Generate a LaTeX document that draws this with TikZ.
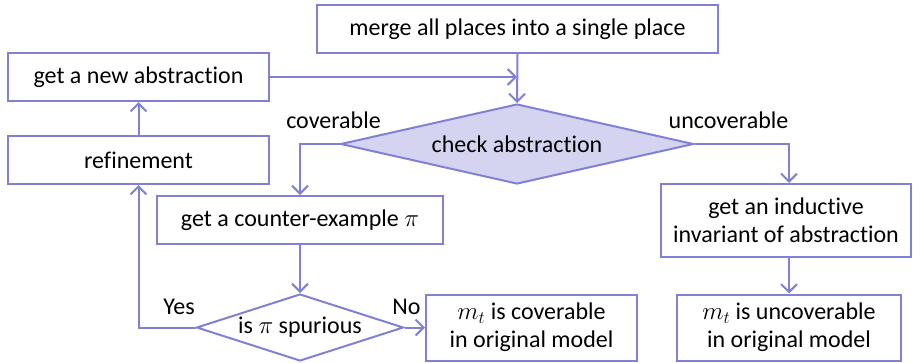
\documentclass[tikz,border=0pt]{standalone}
\usepackage{fontspec}
\setmainfont[Ligatures=NoCommon]{Carlito}
\usetikzlibrary{shapes.geometric,arrows.meta}
\definecolor{flowline}{RGB}{128,128,214}
\definecolor{flowfill}{RGB}{212,212,240}

\begin{document}
\begin{tikzpicture}[x=1pt,y=1pt]
\tikzset{every node/.style={inner sep=0pt,font=\fontsize{24}{28}\selectfont},
  box/.style={draw=flowline,line width=2pt,rectangle,align=center},
  test/.style={draw=flowline,line width=2pt,diamond},
  flow/.style={draw=flowline,line width=2pt,-{Straight Barb[length=8pt,width=16pt]}}}
\useasboundingbox (0,0) rectangle (913,-362);
% boxes
\node [box,minimum width=401,minimum height=48] (merge) at (517.5,-29) {merge all places into a single place};
\node [box,minimum width=261,minimum height=48] (newabs) at (138.5,-77) {get a new abstraction};
\node [box,minimum width=261,minimum height=48] (refine) at (138.5,-160) {refinement};
\node [test,fill=flowfill,aspect=4.4,minimum width=353,minimum height=80] (check) at (517,-144) {check abstraction};
\node [test,aspect=3.1,minimum width=207,minimum height=67] (spurious) at (300,-327.5) {is $\pi$ spurious};
\node [box,minimum width=286,minimum height=48] (counter) at (300,-220) {get a counter-example $\pi$};
\node [box,minimum width=211,minimum height=66] (cover) at (531.5,-327.5) {$m_t$ is coverable\\in original model};
\node [box,minimum width=250,minimum height=73] (invariant) at (786,-220.5) {get an inductive\\invariant of abstraction};
\node [box,minimum width=224,minimum height=66] (uncover) at (789,-327.5) {$m_t$ is uncoverable\\in original model};
% labels
\node (lcov) at (333.5,-120) {coverable};
\node (luncov) at (728.5,-120) {uncoverable};
\node (lyes) at (179,-307) {Yes};
\node (lno) at (406.5,-307) {No};
% connectors
\draw [flow] (merge.south) -- (check.north);
\draw [flow] (newabs.east) -- (newabs.east -| check.north);
\draw [flow] (check.west) -| (counter.north);
\draw [flow] (check.east) -| (uncover.north |- invariant.north);
\draw [flow] (counter) -- (spurious);
\draw [flow] (spurious.west) -| (refine.south);
\draw [flow] (refine) -- (newabs);
\draw [flow] (spurious) -- (cover);
\draw [flow] (invariant.south -| uncover.north) -- (uncover.north);
\end{tikzpicture}
\end{document}
